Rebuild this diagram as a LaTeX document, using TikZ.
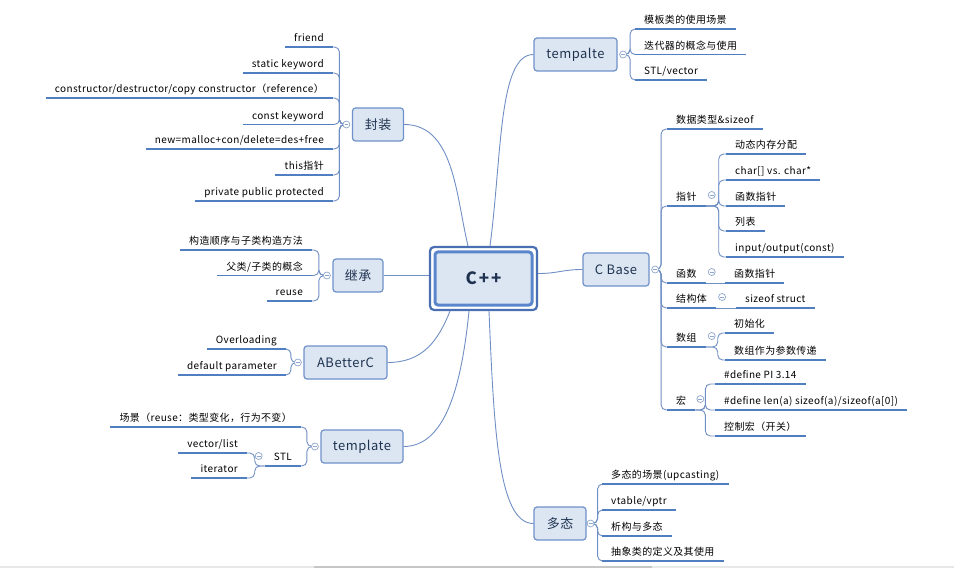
\documentclass[tikz,border=0pt]{standalone}
\usepackage{fontspec}
\setmainfont{Noto Sans CJK SC}[LetterSpace=4]
\definecolor{boxfill}{HTML}{DCE6F2}
\definecolor{boxline}{HTML}{6E91CB}
\definecolor{boxtext}{HTML}{1F3350}
\definecolor{ulinec}{HTML}{4F7FC0}
\definecolor{connc}{HTML}{6F8FC4}
\definecolor{collc}{HTML}{8EA6CC}
\definecolor{cppout}{HTML}{4A70B3}
\definecolor{cppin}{HTML}{5B86CC}
\pgfdeclarelayer{bg}
\pgfsetlayers{bg,main}
\tikzset{
  box/.style={draw=boxline, line width=1.2bp, fill=boxfill, rounded corners=3bp,
    minimum height=33bp, inner sep=0pt, font=\fontsize{13}{15}\selectfont, text=boxtext},
  leaf/.style={inner xsep=9bp, inner ysep=3bp, text height=8.5bp, text depth=2bp,
    font=\fontsize{10}{12}\selectfont, text=black},
  lf/.style={leaf, anchor=south east},
  rt/.style={leaf, anchor=south west},
  uline/.style={draw=ulinec, line width=1.8bp},
  conn/.style={draw=connc, line width=0.9bp},
  trunk/.style={conn, rounded corners=5bp},
  coll/.style={circle, draw=collc, fill=white, line width=0.7bp, minimum size=7bp, inner sep=0pt,
    path picture={\draw[collc, line width=0.6bp] ([xshift=1.6bp]path picture bounding box.west) -- ([xshift=-1.6bp]path picture bounding box.east);}}
}
\begin{document}
\begin{tikzpicture}[x=1bp, y=-1bp]
\useasboundingbox (0,0) rectangle (954,568);
% scrollbar strip at bottom
\fill[gray!18] (0,566) rectangle (954,568);
\fill[gray!45] (314,566) rectangle (652,568);

% central node
\node[draw=cppout, line width=2.2bp, fill=white, rounded corners=4bp, minimum width=107bp, minimum height=63bp] (cpp) at (483.5,278.5) {};
\node[draw=cppin, line width=3bp, fill=boxfill, rounded corners=3bp, minimum width=97bp, minimum height=53bp,
  font=\fontsize{17}{19}\selectfont\bfseries\addfontfeature{LetterSpace=12}, text=boxtext] (cppi) at (cpp.center) {C++};

% main topics
\node[box, minimum width=51bp] (feng) at (378,124.5) {封装};
\node[box, minimum width=50bp] (jc) at (358,275.5) {继承};
\node[box, minimum width=83bp] (abc) at (345.5,362.5) {ABetterC};
\node[box, minimum width=82bp] (tpl) at (362,446.5) {template};
\node[box, minimum width=83bp] (tmpl) at (575.5,54.5) {tempalte};
\node[box, minimum width=66bp] (cb) at (616,269.5) {C Base};
\node[box, minimum width=52bp] (dt) at (560,523.5) {多态};

% collapse markers of main topics
\node[coll] (fc) at ([xshift=-5.5bp]feng.west) {};
\node[coll] (jcc) at ([xshift=-5.5bp]jc.west) {};
\node[coll] (abcc) at ([xshift=-5.5bp]abc.west) {};
\node[coll] (tplc) at ([xshift=-5.5bp]tpl.west) {};
\node[coll] (tmplc) at ([xshift=5.5bp]tmpl.east) {};
\node[coll] (cbc) at ([xshift=5.5bp]cb.east) {};
\node[coll] (dtc) at ([xshift=4bp]dt.east) {};

% 封装
\node[lf] (f1) at (333,47) {friend};
\node[lf] (f2) at (333,73) {static keyword};
\node[lf] (f3) at (333,98) {constructor/destructor/copy constructor（reference）};
\node[lf] (f4) at (333,124.5) {const keyword};
\node[lf] (f5) at (333,149) {new=malloc+con/delete=des+free};
\node[lf] (f6) at (333,175) {this指针};
\node[lf] (f7) at (333,201) {private public protected};

% 继承
\node[lf] (j1) at (312,250) {构造顺序与子类构造方法};
\node[lf] (j2) at (312,275.5) {父类/子类的概念};
\node[lf] (j3) at (312,301) {reuse};

% ABetterC
\node[lf] (a1) at (286,349) {Overloading};
\node[lf] (a2) at (286,375) {default parameter};

% template
\node[lf] (t1) at (301,427) {场景（reuse：类型变化，行为不变）};
\node[lf] (t2) at (301,466) {STL};
\node[lf] (t3) at (247,453) {vector/list};
\node[lf] (t4) at (247,478) {iterator};
\node[coll] (t2c) at ([xshift=-6bp,yshift=10bp]t2.south west) {};

% tempalte
\node[rt] (m1) at (635,29) {模板类的使用场景};
\node[rt] (m2) at (635,54.5) {迭代器的概念与使用};
\node[rt] (m3) at (635,80) {STL/vector};

% C Base
\node[rt] (b1) at (667,129) {数据类型\&sizeof};
\node[rt] (b2) at (667,206) {指针};
\node[rt] (b3) at (667,283) {函数};
\node[rt] (b4) at (667,308) {结构体};
\node[rt] (b5) at (667,347) {数组};
\node[rt] (b6) at (667,410) {宏};
\node[coll] (b2c) at ([xshift=6bp,yshift=11bp]b2.south east) {};
\node[coll] (b3c) at ([xshift=6bp,yshift=11bp]b3.south east) {};
\node[coll] (b4c) at ([xshift=6bp,yshift=11bp]b4.south east) {};
\node[coll] (b5c) at ([xshift=6bp,yshift=11bp]b5.south east) {};
\node[coll] (b6c) at ([xshift=5bp,yshift=11bp]b6.south east) {};

\node[rt] (p1) at (726,154) {动态内存分配};
\node[rt] (p2) at (726,180) {char[] vs. char*};
\node[rt] (p3) at (726,206) {函数指针};
\node[rt] (p4) at (726,231) {列表};
\node[rt] (p5) at (726,257) {input/output(const)};
\node[rt] (h1) at (725,283) {函数指针};
\node[rt] (s1) at (736,308) {sizeof struct};
\node[rt] (r1) at (725,333) {初始化};
\node[rt] (r2) at (725,360) {数组作为参数传递};
\node[rt] (d1) at (715,384) {\#define PI 3.14};
\node[rt] (d2) at (715,410) {\#define len(a) sizeof(a)/sizeof(a[0])};
\node[rt] (d3) at (715,436) {控制宏（开关）};

% 多态
\node[rt] (y1) at (602,484) {多态的场景(upcasting)};
\node[rt] (y2) at (602,510) {vtable/vptr};
\node[rt] (y3) at (602,536) {析构与多态};
\node[rt] (y4) at (602,561) {抽象类的定义及其使用};

\begin{pgfonlayer}{bg}
% main connectors
\draw[conn] ([xshift=-15.5bp]cpp.north) .. controls +(-12,-50) and +(50,0) .. (feng.east);
\draw[conn] ([xshift=6.5bp]cpp.north) .. controls +(12,-90) and +(-35,0) .. (tmpl.west);
\draw[conn] (jc.east) -- (cpp.west |- jc.east);
\draw[conn] ([xshift=-33.5bp]cpp.south) .. controls +(-12,30) and +(35,0) .. (abc.east);
\draw[conn] ([xshift=-14.5bp]cpp.south) .. controls +(-8,80) and +(40,0) .. (tpl.east);
\draw[conn] ([xshift=5.5bp]cpp.south) .. controls +(5,120) and +(-35,0) .. (dt.west);
\draw[conn] ([yshift=5bp]cpp.east) .. controls +(20,0) and +(-20,0) .. (cb.west);
% trunks
\foreach \n in {f1,f2,f3,f4,f5,f6,f7} \draw[trunk] (fc.center) -- ++(-7,0) |- (\n.south east);
\foreach \n in {j1,j2,j3} \draw[trunk] (jcc.center) -- ++(-8,0) |- (\n.south east);
\foreach \n in {a1,a2} \draw[trunk] (abcc.center) -- ++(-7,0) |- (\n.south east);
\foreach \n in {t1,t2} \draw[trunk] (tplc.center) -- ++(-8,0) |- (\n.south east);
\foreach \n in {t3,t4} \draw[trunk] (t2.south west) -- ++(-10,0) |- (\n.south east);
\foreach \n in {m1,m2,m3} \draw[trunk] (tmplc.center) -- ++(7,0) |- (\n.south west);
\foreach \n in {b1,b2,b3,b4,b5,b6} \draw[trunk] (cbc.center) -- ++(6,0) |- (\n.south west);
\foreach \n in {p1,p2,p3,p4,p5} \draw[trunk] (b2.south east) -- ++(13,0) |- (\n.south west);
\draw[conn] (b3.south east) -- (h1.south west);
\draw[conn] (b4.south east) -- (s1.south west);
\foreach \n in {r1,r2} \draw[trunk] (b5.south east) -- ++(12,0) |- (\n.south west);
\foreach \n in {d1,d2,d3} \draw[trunk] (b6.south east) -- ++(10,0) |- (\n.south west);
\foreach \n in {y1,y2,y3,y4} \draw[trunk] (dtc.center) -- ++(7,0) |- (\n.south west);
% underlines
\foreach \n in {f1,f2,f3,f4,f5,f6,f7,j1,j2,j3,a1,a2,t1,t2,t3,t4,m1,m2,m3,b1,b2,b3,b4,b5,b6,
  p1,p2,p3,p4,p5,h1,s1,r1,r2,d1,d2,d3,y1,y2,y3,y4}
  \draw[uline] (\n.south west) -- (\n.south east);
\end{pgfonlayer}
\end{tikzpicture}
\end{document}
